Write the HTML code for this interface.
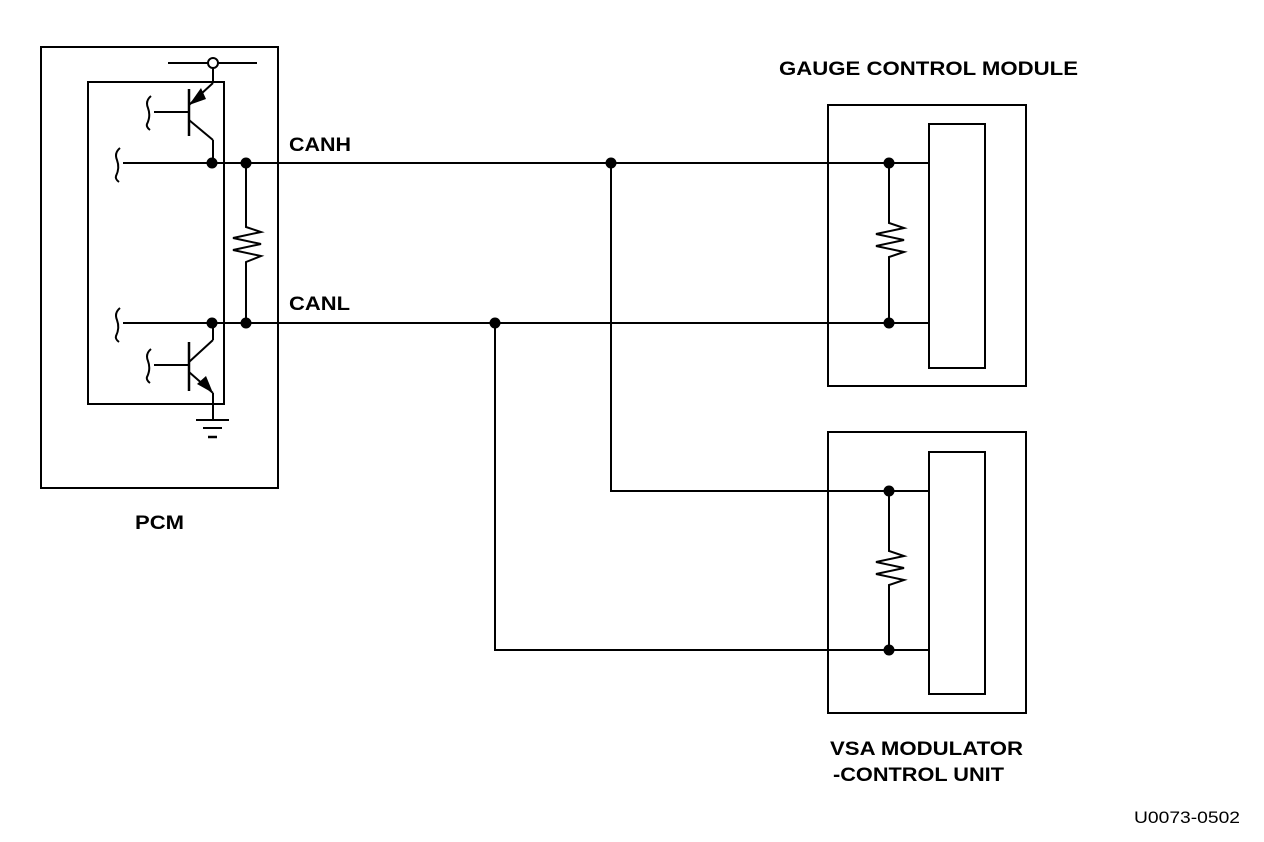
<!DOCTYPE html>
<html><head><style>body{margin:0;background:#fff}svg{display:block}text{font-family:"Liberation Sans",Arial,sans-serif;font-weight:bold;font-size:19px;fill:#000}</style></head>
<body>
<svg width="1264" height="842" viewBox="0 0 1264 842" xmlns="http://www.w3.org/2000/svg">
<g fill="none" stroke="#000" stroke-width="2">
<rect x="41" y="47" width="237" height="441"/>
<rect x="88" y="82" width="136" height="322"/>
<rect x="828" y="105" width="198" height="281"/>
<rect x="929" y="124" width="56" height="244"/>
<rect x="828" y="432" width="198" height="281"/>
<rect x="929" y="452" width="56" height="242"/>
<line x1="168" y1="63" x2="208" y2="63"/><line x1="218" y1="63" x2="257" y2="63"/>
<circle cx="213" cy="63" r="5" fill="#fff"/>
<line x1="213" y1="68" x2="213" y2="83"/>
<line x1="213" y1="83" x2="189" y2="105"/>
<line x1="189" y1="89" x2="189" y2="136" stroke-width="2.5"/>
<line x1="154" y1="112" x2="189" y2="112"/>
<path d="M151 96 Q145 101 148 108 Q151 116 147 124 Q146 127 150 130"/>
<line x1="189" y1="120" x2="213" y2="140"/>
<line x1="213" y1="140" x2="213" y2="163"/>
<line x1="213" y1="323" x2="213" y2="340"/>
<line x1="213" y1="340" x2="189" y2="362"/>
<line x1="189" y1="342" x2="189" y2="391" stroke-width="2.5"/>
<line x1="154" y1="365" x2="189" y2="365"/>
<path d="M151 349 Q145 354 148 361 Q151 369 147 377 Q146 380 150 383"/>
<line x1="189" y1="372" x2="213" y2="393"/>
<line x1="213" y1="393" x2="213" y2="420"/>
<line x1="196" y1="420" x2="229" y2="420"/>
<line x1="203" y1="428" x2="222" y2="428"/>
<line x1="208" y1="437" x2="217" y2="437" stroke-width="2.5"/>
<line x1="123" y1="163" x2="929" y2="163"/>
<path d="M120 148 Q114 153 117 160 Q120 168 116 176 Q115 179 119 182"/>
<line x1="123" y1="323" x2="929" y2="323"/>
<path d="M120 308 Q114 313 117 320 Q120 328 116 336 Q115 339 119 342"/>
<path d="M246 163 V227 L261 232 L233 238 L261 244 L233 250 L261 256 L246 262 V323"/>
<path d="M889 163 V223 L904 228 L876 234 L904 240 L876 246 L904 252 L889 257 V323"/>
<path d="M889 491 V551 L904 556 L876 562 L904 568 L876 574 L904 580 L889 585 V650"/>
<polyline points="611,163 611,491 929,491"/>
<polyline points="495,323 495,650 929,650"/>
</g>
<g fill="#000">
<path d="M189 105 L201 88 L206 99 Z"/>
<path d="M213 393 L197 384 L206 376 Z"/>
<circle cx="212" cy="163" r="5.5"/><circle cx="246" cy="163" r="5.5"/>
<circle cx="212" cy="323" r="5.5"/><circle cx="246" cy="323" r="5.5"/>
<circle cx="611" cy="163" r="5.5"/><circle cx="495" cy="323" r="5.5"/>
<circle cx="889" cy="163" r="5.5"/><circle cx="889" cy="323" r="5.5"/>
<circle cx="889" cy="491" r="5.5"/><circle cx="889" cy="650" r="5.5"/>
</g>
<text x="289" y="151" textLength="62" lengthAdjust="spacingAndGlyphs">CANH</text>
<text x="289" y="310" textLength="61" lengthAdjust="spacingAndGlyphs">CANL</text>
<text x="779" y="75" textLength="299" lengthAdjust="spacingAndGlyphs">GAUGE CONTROL MODULE</text>
<text x="135" y="529" textLength="49" lengthAdjust="spacingAndGlyphs">PCM</text>
<text x="830" y="755" textLength="193" lengthAdjust="spacingAndGlyphs">VSA MODULATOR</text>
<text x="833" y="781" textLength="171" lengthAdjust="spacingAndGlyphs">-CONTROL UNIT</text>
<text x="1134" y="823" textLength="106" lengthAdjust="spacingAndGlyphs" style="font-weight:normal;font-size:17px">U0073-0502</text>
</svg>
</body></html>
